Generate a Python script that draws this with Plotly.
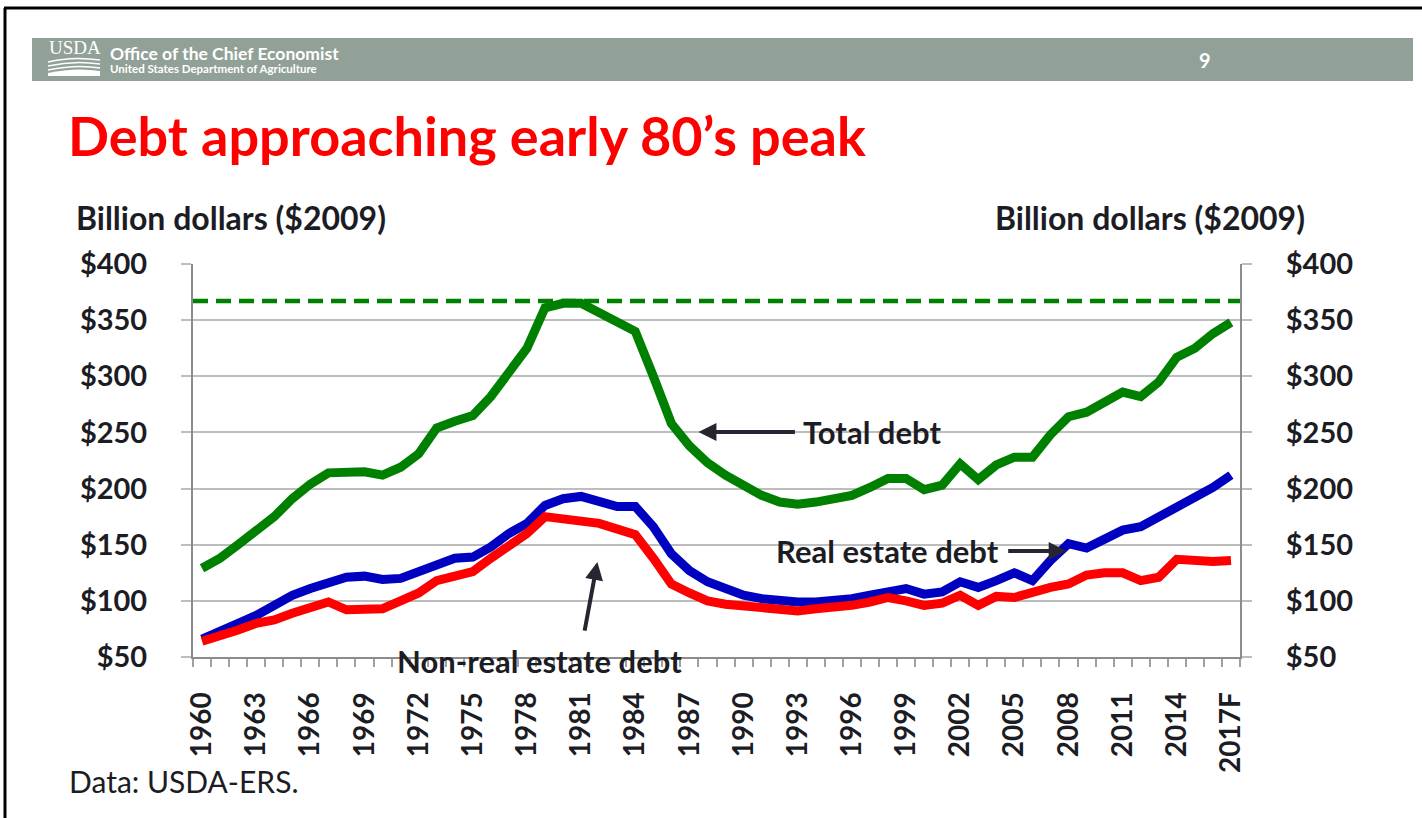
import plotly.graph_objects as go

# ---------------- data ----------------
years = list(range(1960, 2018))
year_labels = [str(y) for y in years[:-1]] + ["2017F"]

total_debt = [129, 138, 150, 163, 175, 191, 204, 214, 214, 215,
              212, 219, 231, 254, 260, 265, 282, 304, 325, 361,
              365, 365, 357, 347, 340, 300, 258, 238, 223, 212,
              202, 194, 188, 186, 188, 190, 194, 201, 209, 209,
              199, 203, 222, 208, 221, 228, 228, 248, 264, 268,
              276, 286, 282, 295, 317, 325, 338, 348]

real_estate_debt = [66, 72, 80, 87, 96, 105, 111, 117, 121, 122,
                    119, 120, 126, 133, 138, 139, 148, 160, 169, 185,
                    191, 193, 188, 184, 184, 166, 142, 127, 117, 110,
                    105, 102, 100, 99, 99, 100, 102, 105, 109, 111,
                    106, 108, 117, 112, 118, 125, 118, 136, 151, 147,
                    155, 163, 166, 175, 182, 191, 201, 212]

non_real_estate_debt = [64, 68, 74, 80, 83, 89, 95, 99, 92, 92,
                        93, 100, 107, 118, 121, 126, 138, 150, 160, 175,
                        172, 171, 169, 165, 159, 138, 115, 107, 100, 97,
                        95, 93, 91, 91, 93, 94, 96, 99, 103, 100,
                        96, 98, 105, 96, 104, 103, 108, 112, 115, 123,
                        125, 125, 118, 121, 137, 135, 135, 136]

peak_total_debt = 367

y_ticks = [50, 100, 150, 200, 250, 300, 350, 400]
y_tick_labels = ["<b>$" + str(v) + "</b>" for v in y_ticks]
x_tick_years = years[::3]
x_tick_text = ["<b>" + s + "</b>" for s in year_labels[::3]]

# ---------------- layout geometry ----------------
W, H = 1422, 818
L, R, T, B = 193, 1240, 264, 657


def px(x):
    return (x - L) / (R - L)


def py(y):
    return (B - y) / (B - T)


FONT = "Lato, 'Open Sans', sans-serif"
TXT = "#1c1c24"

fig = go.Figure()

fig.add_trace(go.Scatter(x=years, y=total_debt, mode="lines", name="Total debt",
                         line=dict(color="#008000", width=9)))
fig.add_trace(go.Scatter(x=years, y=real_estate_debt, mode="lines", name="Real estate debt",
                         line=dict(color="#0000c0", width=9)))
fig.add_trace(go.Scatter(x=years, y=non_real_estate_debt, mode="lines", name="Non-real estate debt",
                         line=dict(color="#ff0000", width=9)))
# invisible trace to activate right axis
fig.add_trace(go.Scatter(x=[years[0]], y=[peak_total_debt], yaxis="y2", mode="markers",
                         marker=dict(opacity=0), showlegend=False, hoverinfo="skip"))

shapes = []
# peak dashed line
shapes.append(dict(type="line", xref="paper", x0=0, x1=1, yref="y", y0=peak_total_debt, y1=peak_total_debt,
                   line=dict(color="#008000", width=4.5, dash="15px,8px"), layer="above"))
# header bar
shapes.append(dict(type="rect", xref="paper", yref="paper", x0=px(32), x1=px(1413), y0=py(81), y1=py(38),
                   fillcolor="#92a197", line=dict(width=0), layer="below"))
# outer frame lines
shapes.append(dict(type="line", xref="paper", yref="paper", x0=px(4), x1=px(1422), y0=py(8), y1=py(8),
                   line=dict(color="#000000", width=3)))
shapes.append(dict(type="line", xref="paper", yref="paper", x0=px(5), x1=px(5), y0=py(8), y1=py(818),
                   line=dict(color="#000000", width=3)))


# logo field lines
def pathpts(pts):
    s = "M %f %f" % (px(pts[0][0]), py(pts[0][1]))
    s += " Q %f %f %f %f" % (px(pts[1][0]), py(pts[1][1]), px(pts[2][0]), py(pts[2][1]))
    return s


for pts, w in [([(48, 62), (72, 56), (100, 60)], 1.5),
               ([(48, 66), (74, 60), (100, 64)], 1.5),
               ([(48, 70), (76, 64), (100, 68)], 1.5)]:
    shapes.append(dict(type="path", xref="paper", yref="paper", path=pathpts(pts),
                       line=dict(color="white", width=w)))
shapes.append(dict(type="path", xref="paper", yref="paper",
                   path="M %f %f Q %f %f %f %f L %f %f L %f %f Z" % (
                       px(48), py(73), px(75), py(67), px(100), py(71), px(100), py(76), px(48), py(76)),
                   fillcolor="white", line=dict(width=0)))

annotations = []
# header texts
annotations.append(dict(xref="paper", yref="paper", x=px(47), y=py(47), xanchor="left", yanchor="middle",
                        text="USDA", showarrow=False,
                        font=dict(family="Liberation Serif, serif", size=19, color="white")))
annotations.append(dict(xref="paper", yref="paper", x=px(108), y=py(53), xanchor="left", yanchor="middle",
                        text="<b>Office of the Chief Economist</b>", showarrow=False,
                        font=dict(family=FONT, size=17.5, color="white")))
annotations.append(dict(xref="paper", yref="paper", x=px(108), y=py(68), xanchor="left", yanchor="middle",
                        text="<b>United States Department of Agriculture</b>", showarrow=False,
                        font=dict(family=FONT, size=11.5, color="white")))
annotations.append(dict(xref="paper", yref="paper", x=px(1205), y=py(60), xanchor="center", yanchor="middle",
                        text="<b>9</b>", showarrow=False,
                        font=dict(family=FONT, size=20, color="white")))
# axis titles
annotations.append(dict(xref="paper", yref="paper", x=px(74), y=py(218), xanchor="left", yanchor="middle",
                        text="<b>Billion dollars ($2009)</b>", showarrow=False,
                        font=dict(family=FONT, size=32, color=TXT)))
annotations.append(dict(xref="paper", yref="paper", x=px(1307), y=py(218), xanchor="right", yanchor="middle",
                        text="<b>Billion dollars ($2009)</b>", showarrow=False,
                        font=dict(family=FONT, size=32, color=TXT)))
# source
annotations.append(dict(xref="paper", yref="paper", x=px(67), y=py(781), xanchor="left", yanchor="middle",
                        text="Data: USDA-ERS.", showarrow=False,
                        font=dict(family=FONT, size=30, color=TXT)))

# series labels and arrows
ARROW = "#262633"
LBL = dict(family=FONT, size=31, color=TXT)
annotations.append(dict(x=1997.1, y=250.4, text="<b>Total debt</b>", showarrow=False,
                        xanchor="center", yanchor="middle", font=LBL))
annotations.append(dict(x=1987.5, y=250.4, text="", showarrow=True, ax=98, ay=0,
                        arrowhead=2, arrowsize=0.9, arrowwidth=4, arrowcolor=ARROW))
annotations.append(dict(x=1998.0, y=144.4, text="<b>Real estate debt</b>", showarrow=False,
                        xanchor="center", yanchor="middle", font=LBL))
annotations.append(dict(x=2007.9, y=144.4, text="", showarrow=True, ax=-60, ay=0,
                        arrowhead=2, arrowsize=0.9, arrowwidth=4, arrowcolor=ARROW))
annotations.append(dict(xref="x", yref="paper", x=1978.7, y=py(661), text="<b>Non-real estate debt</b>",
                        showarrow=False, xanchor="center", yanchor="middle", font=LBL))
annotations.append(dict(x=1981.9, y=134.6, text="", showarrow=True, ax=-13, ay=70,
                        arrowhead=2, arrowsize=0.9, arrowwidth=4, arrowcolor=ARROW))

axis_common = dict(range=[50, 400], tickvals=y_ticks, ticktext=y_tick_labels,
                   ticks="outside", ticklen=10, tickcolor="#bdbdbd", tickwidth=1.5,
                   showline=True, linecolor="#8c8c8c", linewidth=2,
                   tickfont=dict(family=FONT, size=29, color=TXT), ticklabelstandoff=28,
                   zeroline=False, fixedrange=True)

fig.update_layout(
    width=W, height=H,
    margin=dict(l=L, r=W - R, t=T, b=H - B, pad=0),
    paper_bgcolor="white", plot_bgcolor="white",
    showlegend=False,
    title=dict(text="<b>Debt approaching early 80’s peak</b>", xref="container", yref="container",
               x=68 / W, y=1 - 137 / H, xanchor="left", yanchor="middle",
               font=dict(family=FONT, size=54, color="#ff0000")),
    xaxis=dict(range=[years[0] - 0.5, years[-1] + 0.5], tickmode="array",
               tickvals=x_tick_years, ticktext=x_tick_text, tickangle=-90,
               ticks="outside", ticklen=8, tickcolor="rgba(0,0,0,0)",
               tickfont=dict(family=FONT, size=28, color=TXT), ticklabelstandoff=14,
               showline=True, linecolor="#8c8c8c", linewidth=2, showgrid=False, zeroline=False,
               minor=dict(ticks="outside", ticklen=8, tickcolor="#a0a0a0", tickwidth=1.5,
                          tick0=years[0] - 0.5, dtick=1, showgrid=False),
               fixedrange=True),
    yaxis=dict(side="left", showgrid=True, gridcolor="#bdbdbd", gridwidth=1.5, **axis_common),
    yaxis2=dict(side="right", overlaying="y", showgrid=False, **axis_common),
    shapes=shapes,
    annotations=annotations,
)

fig.write_html("out.html", config={"displayModeBar": False},
               post_script="document.body.style.margin='0px';")
